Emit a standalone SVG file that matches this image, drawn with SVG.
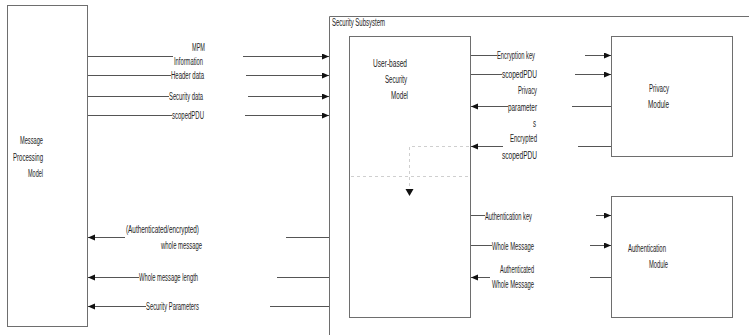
<svg xmlns="http://www.w3.org/2000/svg" width="749" height="335" viewBox="0 0 749 335">
<style>
.box{fill:#fff;stroke:#6e6e6e;stroke-width:1}
.ln{fill:none;stroke:#555;stroke-width:1}
.dash{fill:none;stroke:#cfcfcf;stroke-width:1;stroke-dasharray:3,3}
text{font-family:"Liberation Sans",Arial,sans-serif;font-size:10px;fill:#222}
</style>
<defs>
<marker id="ah" markerUnits="userSpaceOnUse" markerWidth="8" markerHeight="7" refX="7" refY="3" orient="auto">
<path d="M0,0 L7,3 L0,6 z" fill="#111"/>
</marker>
</defs>
<rect width="749" height="335" fill="#fff"/>
<g id="security-subsystem">
<path class="box" style="fill:none" d="M329.5,335 V16.5 H749"/>
<text x="332" y="26" textLength="53" lengthAdjust="spacingAndGlyphs">Security Subsystem</text>
</g>
<g id="mpm">
<rect class="box" x="7.5" y="5.5" width="80" height="321"/>
<text x="20" y="144" textLength="23" lengthAdjust="spacingAndGlyphs">Message</text>
<text x="13" y="161" textLength="30" lengthAdjust="spacingAndGlyphs">Processing</text>
<text x="28" y="177" textLength="15" lengthAdjust="spacingAndGlyphs">Model</text>
</g>
<g id="usm">
<rect class="box" x="349.5" y="36.5" width="121" height="281"/>
<text x="373" y="67" textLength="34" lengthAdjust="spacingAndGlyphs">User-based</text>
<text x="385" y="83" textLength="22" lengthAdjust="spacingAndGlyphs">Security</text>
<text x="391" y="99" textLength="17" lengthAdjust="spacingAndGlyphs">Model</text>
</g>
<g id="privacy">
<rect class="box" x="611.5" y="36.5" width="121" height="120"/>
<text x="649" y="92" textLength="20" lengthAdjust="spacingAndGlyphs">Privacy</text>
<text x="648" y="108" textLength="21" lengthAdjust="spacingAndGlyphs">Module</text>
</g>
<g id="authentication">
<rect class="box" x="611.5" y="196.5" width="121" height="121"/>
<text x="628" y="252" textLength="38" lengthAdjust="spacingAndGlyphs">Authentication</text>
<text x="649" y="268" textLength="19" lengthAdjust="spacingAndGlyphs">Module</text>
</g>
<g id="connectors">
<path class="ln" d="M88,56.5 H173"/>
<path class="ln" d="M243,56.5 H329" marker-end="url(#ah)"/>
<path class="ln" d="M88,75.5 H171"/>
<path class="ln" d="M246,75.5 H329" marker-end="url(#ah)"/>
<path class="ln" d="M88,96.5 H169"/>
<path class="ln" d="M248,96.5 H329" marker-end="url(#ah)"/>
<path class="ln" d="M88,115.5 H172"/>
<path class="ln" d="M245,115.5 H329" marker-end="url(#ah)"/>
<path class="ln" d="M125,237.5 H88" marker-end="url(#ah)"/>
<path class="ln" d="M286,237.5 H329"/>
<path class="ln" d="M139,277.5 H88" marker-end="url(#ah)"/>
<path class="ln" d="M277,277.5 H329"/>
<path class="ln" d="M146,306.5 H88" marker-end="url(#ah)"/>
<path class="ln" d="M270,306.5 H329"/>
<path class="ln" d="M471,55.5 H497"/>
<path class="ln" d="M585,55.5 H611" marker-end="url(#ah)"/>
<path class="ln" d="M471,74.5 H502"/>
<path class="ln" d="M575,74.5 H611" marker-end="url(#ah)"/>
<path class="ln" d="M508,106.5 H471" marker-end="url(#ah)"/>
<path class="ln" d="M572,106.5 H611"/>
<path class="ln" d="M503,146.5 H471" marker-end="url(#ah)"/>
<path class="ln" d="M578,146.5 H611"/>
<path class="ln" d="M471,215.5 H485"/>
<path class="ln" d="M596,215.5 H611" marker-end="url(#ah)"/>
<path class="ln" d="M471,245.5 H492"/>
<path class="ln" d="M590,245.5 H611" marker-end="url(#ah)"/>
<path class="ln" d="M490,277.5 H471" marker-end="url(#ah)"/>
<path class="ln" d="M590,277.5 H611"/>
<path class="dash" d="M469,146.5 H409.5 V189"/>
<path d="M405.5,189 L413.5,189 L409.5,196 z" fill="#111"/>
<path class="dash" d="M351,176.5 H469"/>
</g>
<g id="labels">
<text x="192" y="51" textLength="13" lengthAdjust="spacingAndGlyphs">MPM</text>
<text x="174" y="65" textLength="29" lengthAdjust="spacingAndGlyphs">Information</text>
<text x="171" y="79" textLength="33" lengthAdjust="spacingAndGlyphs">Header data</text>
<text x="169" y="100" textLength="34" lengthAdjust="spacingAndGlyphs">Security data</text>
<text x="172" y="119" textLength="32" lengthAdjust="spacingAndGlyphs">scopedPDU</text>
<text x="126" y="233" textLength="73" lengthAdjust="spacingAndGlyphs">(Authenticated/encrypted)</text>
<text x="161" y="249" textLength="41" lengthAdjust="spacingAndGlyphs">whole message</text>
<text x="139" y="281" textLength="59" lengthAdjust="spacingAndGlyphs">Whole message length</text>
<text x="146" y="310" textLength="53" lengthAdjust="spacingAndGlyphs">Security Parameters</text>
<text x="497" y="59" textLength="38" lengthAdjust="spacingAndGlyphs">Encryption key</text>
<text x="502" y="78" textLength="35" lengthAdjust="spacingAndGlyphs">scopedPDU</text>
<text x="518" y="94" textLength="19" lengthAdjust="spacingAndGlyphs">Privacy</text>
<text x="508" y="111" textLength="29" lengthAdjust="spacingAndGlyphs">parameter</text>
<text x="533" y="127" textLength="3" lengthAdjust="spacingAndGlyphs">s</text>
<text x="510" y="142" textLength="27" lengthAdjust="spacingAndGlyphs">Encrypted</text>
<text x="502" y="159" textLength="35" lengthAdjust="spacingAndGlyphs">scopedPDU</text>
<text x="485" y="220" textLength="47" lengthAdjust="spacingAndGlyphs">Authentication key</text>
<text x="492" y="250" textLength="42" lengthAdjust="spacingAndGlyphs">Whole Message</text>
<text x="500" y="273" textLength="34" lengthAdjust="spacingAndGlyphs">Authenticated</text>
<text x="492" y="288" textLength="42" lengthAdjust="spacingAndGlyphs">Whole Message</text>
</g>
</svg>
